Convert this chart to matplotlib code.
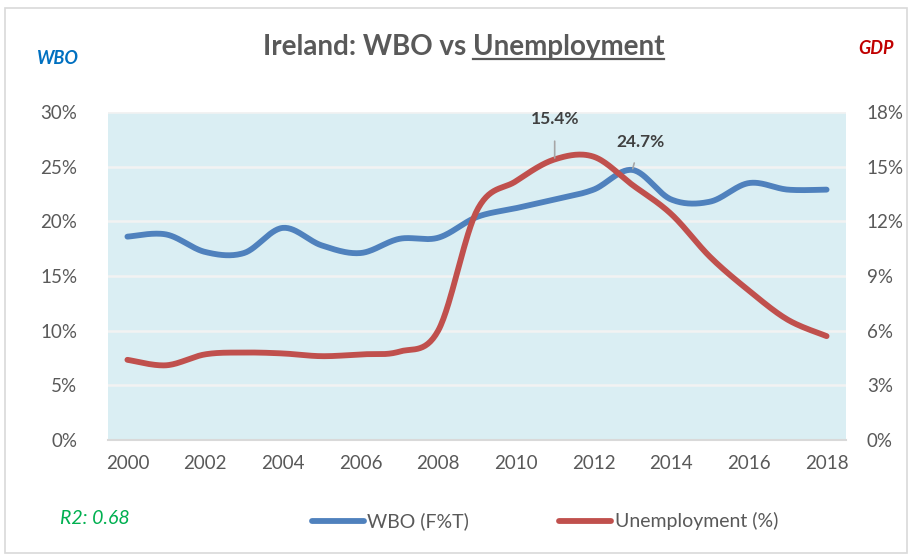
import numpy as np
import matplotlib
matplotlib.use("Agg")
import matplotlib.pyplot as plt
from matplotlib.patches import Rectangle
from matplotlib.lines import Line2D

plt.rcParams['font.family'] = ['Lato', 'DejaVu Sans']

years = list(range(2000, 2019))
wbo = [18.6, 18.8, 17.2, 17.1, 19.4, 17.8, 17.1, 18.4, 18.5, 20.4, 21.2, 22.0,
       22.9, 24.7, 22.0, 21.8, 23.5, 22.9, 22.9]
unemp = [4.4, 4.1, 4.7, 4.8, 4.75, 4.6, 4.7, 4.85, 6.0, 12.6, 14.2, 15.4,
         15.55, 14.0, 12.4, 10.05, 8.2, 6.6, 5.7]
left_ticks = [0, 5, 10, 15, 20, 25, 30]
right_ticks = [0, 3, 6, 9, 12, 15, 18]
x_ticks = list(range(2000, 2019, 2))

BLUE = '#4F81BD'
RED = '#C0504D'
GRAY = '#595959'


def smooth(x, y, n=30):
    # Excel-like smoothed line (Catmull-Rom Bezier) through the data points
    x = np.asarray(x, float)
    y = np.asarray(y, float)
    xs, ys = [], []
    for i in range(len(x) - 1):
        p0 = np.array([x[max(i - 1, 0)], y[max(i - 1, 0)]])
        p1 = np.array([x[i], y[i]])
        p2 = np.array([x[i + 1], y[i + 1]])
        p3 = np.array([x[min(i + 2, len(x) - 1)], y[min(i + 2, len(x) - 1)]])
        c1 = p1 + (p2 - p0) / 6.0
        c2 = p2 - (p3 - p1) / 6.0
        t = np.linspace(0, 1, n, endpoint=(i == len(x) - 2))
        b = ((1 - t) ** 3)[:, None] * p1 + (3 * (1 - t) ** 2 * t)[:, None] * c1 \
            + (3 * (1 - t) * t ** 2)[:, None] * c2 + (t ** 3)[:, None] * p2
        xs.append(b[:, 0])
        ys.append(b[:, 1])
    return np.concatenate(xs), np.concatenate(ys)


fig = plt.figure(figsize=(9.12, 5.55), dpi=100)
fig.patch.set_facecolor('white')
# chart border
fig.add_artist(Rectangle((5 / 912, 2 / 555), 902 / 912, 545 / 555, transform=fig.transFigure,
                         fill=False, edgecolor='#D9D9D9', linewidth=1.2))

ax = fig.add_axes([108 / 912, 115 / 555, 738 / 912, 328 / 555])
ax.set_facecolor('#DAEEF3')
ax2 = ax.twinx()

ax.set_xlim(1999.5, 2018.5)
ax.set_ylim(0, 30)
ax2.set_ylim(0, 18)

ax.set_yticks(left_ticks)
ax.set_yticklabels([f'{v}%' for v in left_ticks])
ax2.set_yticks(right_ticks)
ax2.set_yticklabels([f'{v}%' for v in right_ticks])
ax.set_xticks(x_ticks)
ax.set_xticklabels([str(v) for v in x_ticks])

for a in (ax, ax2):
    for s in a.spines.values():
        s.set_visible(False)
    a.tick_params(length=0, colors=GRAY, labelsize=13.5)
ax.tick_params(axis='y', pad=22)
ax2.tick_params(axis='y', pad=15)
ax.tick_params(axis='x', pad=11)
ax.spines['bottom'].set_visible(True)
ax.spines['bottom'].set_color('#D9D9D9')
ax.spines['bottom'].set_linewidth(1.5)

ax.yaxis.grid(True, color='#F2F2F2', linewidth=1.8)
ax.set_axisbelow(True)

bx, by = smooth(years, wbo)
rx, ry = smooth(years, unemp)
ax.plot(bx, by, color=BLUE, linewidth=4.2, solid_capstyle='round', zorder=3)
ax2.plot(rx, ry, color=RED, linewidth=4.2, solid_capstyle='round', zorder=3)

# data labels
ax2.annotate('15.4%', xy=(2011, 15.4), xytext=(2011, 17.6), ha='center', va='center',
             fontsize=12.5, fontweight='bold', color='#404040',
             arrowprops=dict(arrowstyle='-', color='#A6A6A6', lw=1.2, shrinkA=8, shrinkB=1))
ax.annotate('24.7%', xy=(2013, 24.7), xytext=(2013.2, 27.3), ha='center', va='center',
            fontsize=12.5, fontweight='bold', color='#404040',
            arrowprops=dict(arrowstyle='-', color='#A6A6A6', lw=1.2, shrinkA=8, shrinkB=1))

# title with underlined second part
TS = 20
t1 = fig.text(263 / 912, 1 - 47 / 555, 'Ireland: WBO vs ', fontsize=TS, color=GRAY,
              ha='left', va='center', fontweight='bold')
fig.canvas.draw()
r = fig.canvas.get_renderer()
bb1 = t1.get_window_extent(r)
t2 = fig.text(bb1.x1 / 912, 1 - 47 / 555, 'Unemployment', fontsize=TS, color=GRAY,
              ha='left', va='center', fontweight='bold')
fig.canvas.draw()
bb2 = t2.get_window_extent(r)
uy = bb2.y0 + 1
fig.add_artist(Line2D([bb2.x0 / 912, bb2.x1 / 912], [uy / 555, uy / 555],
                      transform=fig.transFigure, color=GRAY, linewidth=1.6))

fig.text(58 / 912, 1 - 59 / 555, 'WBO', fontsize=13, color='#0070C0', style='italic',
         fontweight='bold', ha='center', va='center')
fig.text(876 / 912, 1 - 48 / 555, 'GDP', fontsize=13, color='#C00000', style='italic',
         fontweight='bold', ha='center', va='center')
fig.text(95 / 912, 1 - 518 / 555, 'R2: 0.68', fontsize=14, color='#00B050', style='italic',
         ha='center', va='center')

# legend
fig.add_artist(Line2D([312 / 912, 364 / 912], [1 - 521 / 555] * 2, transform=fig.transFigure,
                      color=BLUE, linewidth=4.2, solid_capstyle='round'))
fig.text(367 / 912, 1 - 521 / 555, 'WBO (F%T)', fontsize=14, color=GRAY, ha='left', va='center')
fig.add_artist(Line2D([559 / 912, 611 / 912], [1 - 521 / 555] * 2, transform=fig.transFigure,
                      color=RED, linewidth=4.2, solid_capstyle='round'))
fig.text(615 / 912, 1 - 521 / 555, 'Unemployment (%)', fontsize=14, color=GRAY, ha='left', va='center')

fig.savefig('out.png', dpi=100)
